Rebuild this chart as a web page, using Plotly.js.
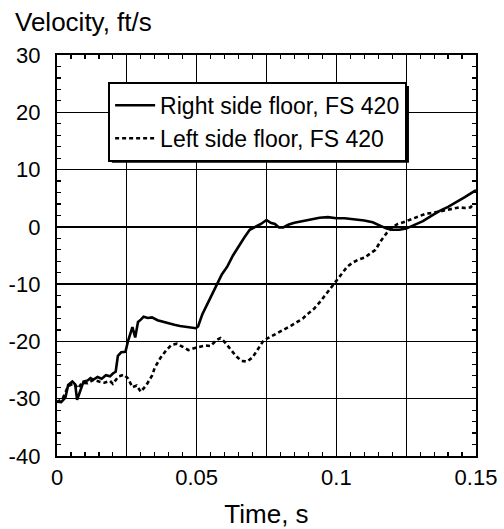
<!DOCTYPE html>
<html>
<head>
<meta charset="utf-8">
<script src="https://cdn.plot.ly/plotly-3.0.1.min.js"></script>
<style>
  html, body { margin: 0; padding: 0; background: #fff; }
  #chart { width: 504px; height: 529px; }
</style>
</head>
<body>
<div id="chart"></div>
<script>
// Floor velocity at FS 420, right and left side
const rightTime = [0, 0.0015, 0.003, 0.004, 0.0055, 0.0065, 0.0072, 0.0083, 0.0095, 0.011,
  0.012, 0.013, 0.0145, 0.016, 0.0175, 0.019, 0.020, 0.021, 0.0218, 0.023,
  0.0245, 0.0255, 0.027, 0.028, 0.029, 0.030, 0.031, 0.0325, 0.034, 0.036,
  0.038, 0.040, 0.042, 0.044, 0.046, 0.048, 0.0497, 0.0505, 0.052, 0.0535,
  0.055, 0.057, 0.059, 0.061, 0.063, 0.065, 0.067, 0.069, 0.071, 0.073,
  0.075, 0.0765, 0.078, 0.0795, 0.081, 0.083, 0.085, 0.088, 0.091, 0.094,
  0.097, 0.100, 0.103, 0.107, 0.110, 0.113, 0.116, 0.118, 0.120, 0.1225,
  0.125, 0.128, 0.131, 0.134, 0.137, 0.140, 0.143, 0.146, 0.148, 0.150];
const rightVel = [-30.5, -30.6, -29.8, -27.6, -27.0, -27.5, -30.2, -28.6, -27.0, -26.8,
  -26.4, -26.7, -26.2, -26.5, -25.9, -26.1, -25.6, -25.3, -22.5, -21.9,
  -21.8, -19.8, -17.5, -19.3, -16.6, -16.2, -15.7, -15.9, -15.8, -16.3,
  -16.6, -16.9, -17.1, -17.3, -17.4, -17.6, -17.7, -17.4, -15.3, -13.8,
  -12.2, -10.3, -8.3, -6.9, -5.0, -3.4, -1.9, -0.5, 0.0, 0.5,
  1.2, 0.7, 0.5, -0.1, -0.1, 0.4, 0.7, 1.0, 1.3, 1.6,
  1.7, 1.5, 1.5, 1.3, 1.1, 0.8, 0.2, -0.3, -0.5, -0.5,
  -0.3, 0.3, 1.0, 1.9, 2.8, 3.5, 4.3, 5.2, 5.8, 6.4];

const leftTime = [0, 0.002, 0.004, 0.006, 0.0075, 0.009, 0.011, 0.013, 0.015, 0.017,
  0.019, 0.020, 0.022, 0.024, 0.0255, 0.027, 0.0285, 0.030, 0.032, 0.034,
  0.035, 0.037, 0.039, 0.041, 0.043, 0.045, 0.047, 0.049, 0.051, 0.053,
  0.055, 0.057, 0.0585, 0.060, 0.062, 0.064, 0.066, 0.068, 0.070, 0.072,
  0.074, 0.076, 0.078, 0.080, 0.082, 0.084, 0.086, 0.088, 0.090, 0.092,
  0.094, 0.096, 0.098, 0.100, 0.102, 0.104, 0.106, 0.108, 0.110, 0.112,
  0.114, 0.116, 0.118, 0.120, 0.122, 0.124, 0.126, 0.128, 0.130, 0.132,
  0.134, 0.136, 0.138, 0.140, 0.142, 0.144, 0.146, 0.148, 0.149];
const leftVel = [-30.6, -30.0, -27.8, -27.3, -28.2, -27.2, -27.3, -26.7, -27.0, -27.2,
  -26.9, -27.4, -26.1, -25.8, -26.5, -28.0, -27.7, -28.8, -27.6, -26.0,
  -24.6, -22.9, -21.6, -20.6, -20.4, -20.9, -21.5, -21.2, -21.0, -20.7,
  -20.8, -19.8, -19.4, -20.1, -21.3, -22.5, -23.4, -23.5, -22.8, -21.3,
  -19.8, -19.3, -18.8, -18.3, -17.8, -17.2, -16.6, -16.0, -15.1, -14.3,
  -13.2, -11.9, -10.6, -9.4, -8.0, -6.9, -6.2, -5.7, -5.4, -4.7,
  -4.0, -2.4, -1.1, -0.1, 0.5, 0.8, 1.2, 1.6, 2.0, 2.3,
  2.4, 2.6, 2.8, 3.1, 3.3, 3.4, 3.3, 3.4, 3.9];

const seriesNames = ['Right side floor, FS 420', 'Left side floor, FS 420'];

const xGridVals = [0, 0.025, 0.05, 0.075, 0.1, 0.125, 0.15];
const xTickText = ['0', '', '0.05', '', '0.1', '', '0.15'];
const yTickVals = [-40, -30, -20, -10, 0, 10, 20, 30];
const yTickText = ['-40', '-30', '-20', '-10', '0', '10', '20', '30'];

const FONT = 'Liberation Sans, Arial, Helvetica, sans-serif';

const traces = [
  {
    x: rightTime, y: rightVel, name: seriesNames[0],
    type: 'scatter', mode: 'lines',
    line: { color: '#000', width: 2.6 }
  },
  {
    x: leftTime, y: leftVel, name: seriesNames[1],
    type: 'scatter', mode: 'lines',
    line: { color: '#000', width: 2.6, dash: '4px,3px' }
  }
];

const axisCommon = {
  showline: true, linecolor: '#000', linewidth: 2.2, mirror: 'ticks',
  showgrid: true, gridcolor: '#000', gridwidth: 1.3,
  zeroline: false,
  ticks: 'inside', ticklen: 5, tickwidth: 1.3, tickcolor: '#000',
  tickfont: { family: FONT, size: 22, color: '#000' },
  tickmode: 'array'
};

const layout = {
  width: 504, height: 529,
  margin: { l: 57, r: 28, t: 55, b: 73 },
  paper_bgcolor: '#fff', plot_bgcolor: '#fff',
  font: { family: FONT, color: '#000' },
  showlegend: true,
  xaxis: Object.assign({}, axisCommon, {
    range: [0, 0.15],
    tickvals: xGridVals, ticktext: xTickText,
    ticklabelstandoff: 0,
    minor: { tickmode: 'linear', tick0: 0, dtick: 0.005, ticks: 'inside', ticklen: 4,
             tickwidth: 1.2, tickcolor: '#000', showgrid: false },
    title: { text: 'Time, s', font: { family: FONT, size: 26, color: '#000' }, standoff: 20 }
  }),
  yaxis: Object.assign({}, axisCommon, {
    range: [-40, 30],
    tickvals: yTickVals, ticktext: yTickText,
    ticklabelstandoff: 10,
    minor: { tickmode: 'linear', tick0: -40, dtick: 2, ticks: 'inside', ticklen: 4,
             tickwidth: 1.2, tickcolor: '#000', showgrid: false }
  }),
  legend: {
    x: 0.122, y: 0.933, xanchor: 'left', yanchor: 'top',
    bgcolor: '#fff', bordercolor: '#000', borderwidth: 2,
    font: { family: FONT, size: 23, color: '#000' },
    itemwidth: 40, tracegroupgap: 0
  },
  shapes: [
    // drop shadow offset below and right of the legend box
    { type: 'rect', xref: 'paper', yref: 'paper', layer: 'above',
      x0: 0.131, x1: 0.840, y0: 0.731, y1: 0.923,
      fillcolor: '#000', line: { width: 0 } }
  ],
  annotations: [
    { text: 'Velocity, ft/s', xref: 'paper', yref: 'paper',
      x: -0.105, y: 1.082, xanchor: 'left', yanchor: 'middle', showarrow: false,
      font: { family: FONT, size: 26, color: '#000' } }
  ]
};

Plotly.newPlot('chart', traces, layout, { displayModeBar: false, staticPlot: true });
</script>
</body>
</html>
